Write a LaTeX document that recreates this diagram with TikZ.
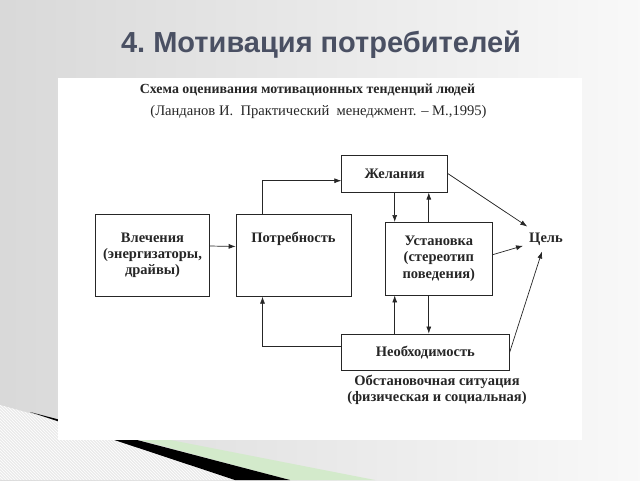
\documentclass[tikz,border=0pt]{standalone}
\usepackage{fontspec}
\setmainfont{Liberation Serif}
\newfontfamily\headfont{Liberation Sans}
\usepackage{tikz}
\usetikzlibrary{positioning, arrows.meta, calc, patterns}
\definecolor{titlegray}{HTML}{4A5063}
\definecolor{swoosh}{HTML}{D3EACB}
\tikzset{
    box/.style={draw=black!85, line width=0.7pt, rectangle, inner sep=0pt},
    boxtext/.style={font=\fontsize{14.5}{16.2}\selectfont\bfseries, align=center, text=black!85},
    link/.style={draw=black!85, line width=0.7pt, -{Latex[length=7pt, width=5pt]}}
}
\begin{document}
\begin{tikzpicture}[x=1pt, y=-1pt]
    \useasboundingbox (0,0) rectangle (640,480);

    % slide background
    \shade[left color=gray!30, right color=gray!5] (0,0) rectangle (640,480);
    \fill[gray!16] (0,405) -- (58,421) -- (235,480) -- (0,480) -- cycle;
    \fill[pattern=north west lines, pattern color=white]
        (0,405) -- (58,421) -- (235,480) -- (0,480) -- cycle;
    \fill[swoosh] (58,418) -- (375,480) -- (290,480) -- cycle;
    \fill[black] (30,412) -- (290,480) -- (235,480) -- cycle;

    % sheet
    \fill[white] (58,78) rectangle (582,440);

    % titles
    \node[font=\headfont\bfseries\fontsize{29}{34}\selectfont, text=titlegray]
        (title) at (321,45) {4.\ Мотивация потребителей};
    \node[font=\fontsize{13.9}{16}\selectfont\bfseries, text=black!85]
        (head) at (307.5,90) {Схема оценивания мотивационных тенденций людей};
    \node[font=\fontsize{14.6}{16}\selectfont, text=black!85]
        (src) at (318.5,112) {(Ланданов И.\ \ Практический\ \ менеджмент. -- М.,1995)};

    % boxes
    \node[box, boxtext, minimum width=114, minimum height=82]
        (vlech) at (152.5,255) {Влечения\\(энергизаторы,\\драйвы)};
    \node[box, minimum width=115, minimum height=81.5]
        (potr) at (293.5,255.5) {};
    \node[boxtext] (potrtxt) at (293.5,239) {Потребность};
    \node[box, boxtext, minimum width=106, minimum height=37]
        (zhel) at (394.7,173.7) {Желания};
    \node[box, boxtext, minimum width=107, minimum height=72.7]
        (ustan) at (438.8,258.7) {Установка\\(стереотип\\поведения)};
    \node[box, boxtext, minimum width=168, minimum height=36.7]
        (neob) at (425.3,352.3) {Необходимость};

    % free labels
    \node[boxtext, inner sep=6pt] (cel) at (546,239) {Цель};
    \node[boxtext, font=\fontsize{14.5}{16.5}\selectfont\bfseries]
        (situ) at (437,390) {Обстановочная ситуация\\(физическая и социальная)};

    % connectors
    \draw[link] ([yshift=9pt]vlech.east) -- ([yshift=9pt]potr.west);
    \draw[link] ([xshift=-31pt]potr.north) |- ([yshift=-7pt]zhel.west);
    \draw[link] ([yshift=6pt]neob.west) -| ([xshift=-31pt]potr.south);
    \draw[link] (zhel.south) -- (zhel.south |- ustan.north);
    \draw[link] ([xshift=-10pt]ustan.north) -- ([xshift=-10pt]ustan.north |- zhel.south);
    \draw[link] (neob.north -| zhel.south) -- (ustan.south -| zhel.south);
    \draw[link] ([xshift=-10pt]ustan.south) -- ([xshift=-10pt]ustan.south |- neob.north);
    \draw[link] (zhel.east) -- (cel);
    \draw[link] ([yshift=4pt]ustan.east) -- (cel);
    \draw[link] (neob.east) -- (cel);
\end{tikzpicture}
\end{document}
